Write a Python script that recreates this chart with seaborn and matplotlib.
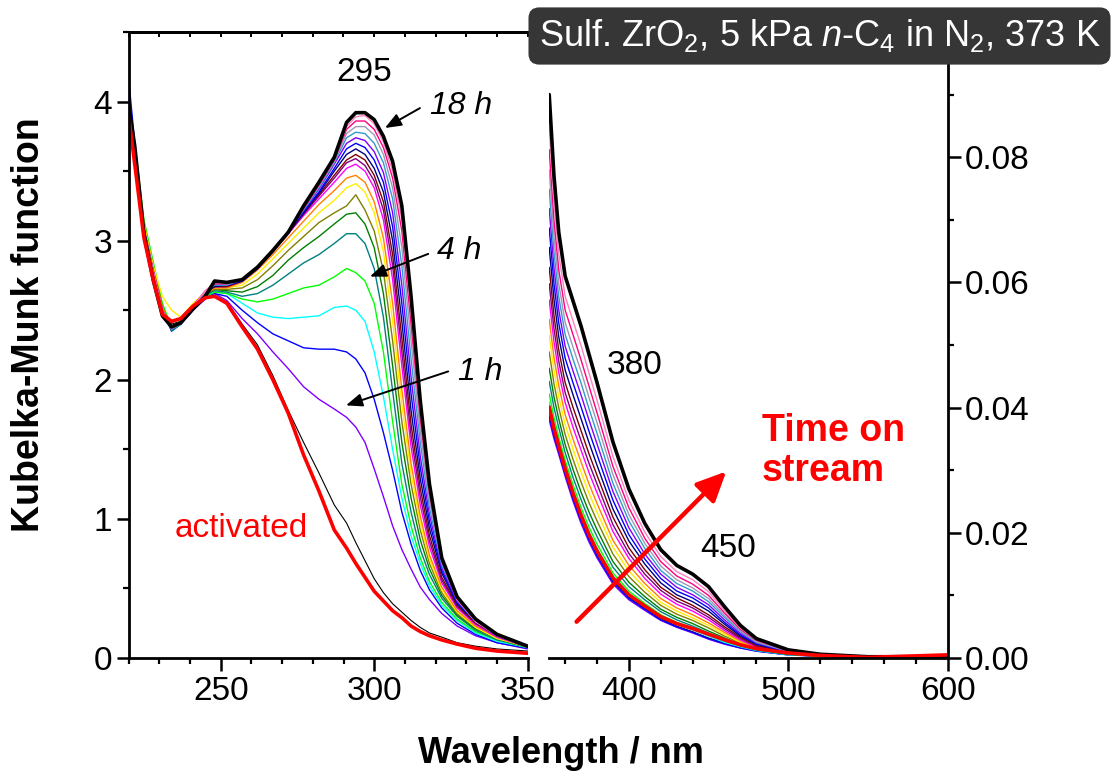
import matplotlib
matplotlib.use("Agg")
import matplotlib.pyplot as plt
from matplotlib.ticker import FixedLocator, FormatStrFormatter, MultipleLocator
import seaborn as sns

# ---------------------------------------------------------------------------
# Wavelength grids (nm)
# ---------------------------------------------------------------------------
wl_uv = [220, 222, 225, 228, 231, 234, 237, 241, 245, 248, 252, 257, 262, 267,
         272, 277, 282, 287, 291, 294, 297, 300, 303, 306, 309, 312, 315, 318,
         322, 327, 333, 340, 350]
wl_vis = [350, 353, 356, 360, 365, 370, 375, 380, 390, 400, 410, 420, 430, 440,
          450, 460, 470, 480, 500, 520, 550, 600]

# ---------------------------------------------------------------------------
# Kubelka-Munk spectra, UV range (left panel)
# ---------------------------------------------------------------------------
uv_activated = [3.90, 3.55, 3.02, 2.72, 2.47, 2.42, 2.44, 2.53, 2.59, 2.60, 2.55, 2.38, 2.22, 2.00, 1.76, 1.46, 1.20, 0.92, 0.79, 0.68, 0.58, 0.48, 0.41, 0.34, 0.29, 0.23, 0.19, 0.16, 0.13, 0.10, 0.07, 0.05, 0.034]
uv_t00 = [4.05, 3.62, 3.08, 2.78, 2.52, 2.40, 2.42, 2.52, 2.60, 2.60, 2.56, 2.40, 2.25, 2.03, 1.78, 1.55, 1.33, 1.10, 0.97, 0.83, 0.70, 0.57, 0.47, 0.39, 0.33, 0.27, 0.22, 0.18, 0.15, 0.11, 0.085, 0.065, 0.05]
uv_t01 = [4.10, 3.66, 3.10, 2.80, 2.52, 2.36, 2.40, 2.50, 2.58, 2.62, 2.57, 2.44, 2.33, 2.20, 2.08, 1.95, 1.86, 1.79, 1.73, 1.66, 1.55, 1.36, 1.16, 0.95, 0.78, 0.64, 0.51, 0.42, 0.32, 0.23, 0.16, 0.11, 0.065]
uv_t02 = [4.17, 3.70, 3.12, 2.80, 2.50, 2.35, 2.40, 2.50, 2.60, 2.62, 2.60, 2.50, 2.41, 2.33, 2.28, 2.23, 2.22, 2.22, 2.20, 2.15, 2.05, 1.86, 1.62, 1.35, 1.05, 0.82, 0.63, 0.49, 0.36, 0.25, 0.17, 0.11, 0.07]
uv_t03 = [4.05, 3.65, 3.10, 2.80, 2.52, 2.36, 2.40, 2.52, 2.60, 2.63, 2.62, 2.55, 2.48, 2.45, 2.44, 2.45, 2.46, 2.52, 2.53, 2.50, 2.42, 2.20, 1.88, 1.50, 1.15, 0.88, 0.68, 0.52, 0.38, 0.27, 0.18, 0.12, 0.075]
uv_t04 = [4.00, 3.70, 3.15, 2.85, 2.55, 2.38, 2.42, 2.52, 2.60, 2.63, 2.62, 2.58, 2.56, 2.58, 2.62, 2.66, 2.68, 2.74, 2.80, 2.77, 2.71, 2.55, 2.20, 1.70, 1.25, 0.95, 0.72, 0.55, 0.40, 0.28, 0.19, 0.13, 0.075]
uv_t05 = [4.05, 3.64, 3.08, 2.80, 2.50, 2.35, 2.40, 2.52, 2.61, 2.64, 2.63, 2.60, 2.62, 2.68, 2.76, 2.84, 2.90, 2.98, 3.05, 3.05, 2.98, 2.80, 2.45, 1.92, 1.40, 1.05, 0.78, 0.60, 0.43, 0.30, 0.20, 0.13, 0.078]
uv_t06 = [4.00, 3.62, 3.10, 2.80, 2.52, 2.37, 2.42, 2.52, 2.62, 2.65, 2.64, 2.63, 2.67, 2.75, 2.86, 2.95, 3.03, 3.12, 3.19, 3.20, 3.12, 2.95, 2.62, 2.10, 1.55, 1.15, 0.85, 0.64, 0.45, 0.31, 0.21, 0.14, 0.08]
uv_t07 = [4.02, 3.64, 3.12, 2.82, 2.52, 2.37, 2.42, 2.53, 2.62, 2.65, 2.65, 2.66, 2.72, 2.82, 2.93, 3.03, 3.13, 3.20, 3.25, 3.33, 3.22, 3.07, 2.78, 2.28, 1.70, 1.25, 0.92, 0.68, 0.47, 0.32, 0.22, 0.14, 0.08]
uv_t08 = [4.00, 3.65, 3.12, 2.82, 2.60, 2.50, 2.45, 2.55, 2.63, 2.66, 2.66, 2.68, 2.76, 2.87, 2.98, 3.09, 3.20, 3.29, 3.38, 3.41, 3.35, 3.20, 2.92, 2.42, 1.82, 1.33, 0.97, 0.71, 0.49, 0.33, 0.22, 0.14, 0.08]
uv_t09 = [4.02, 3.60, 3.10, 2.80, 2.52, 2.38, 2.42, 2.53, 2.63, 2.66, 2.66, 2.70, 2.79, 2.90, 3.02, 3.14, 3.26, 3.36, 3.45, 3.47, 3.42, 3.28, 3.02, 2.55, 1.93, 1.40, 1.02, 0.74, 0.51, 0.34, 0.23, 0.15, 0.08]
uv_t10 = [3.98, 3.60, 3.08, 2.78, 2.50, 2.37, 2.41, 2.53, 2.63, 2.67, 2.67, 2.71, 2.80, 2.92, 3.05, 3.18, 3.30, 3.42, 3.52, 3.55, 3.50, 3.38, 3.15, 2.72, 2.10, 1.52, 1.10, 0.80, 0.54, 0.36, 0.24, 0.15, 0.08]
uv_t11 = [4.02, 3.62, 3.08, 2.78, 2.50, 2.36, 2.41, 2.53, 2.63, 2.67, 2.67, 2.71, 2.80, 2.92, 3.05, 3.19, 3.32, 3.45, 3.56, 3.59, 3.54, 3.43, 3.22, 2.82, 2.20, 1.60, 1.16, 0.84, 0.56, 0.37, 0.25, 0.16, 0.08]
uv_t12 = [4.00, 3.60, 3.08, 2.78, 2.50, 2.37, 2.41, 2.53, 2.63, 2.67, 2.67, 2.71, 2.80, 2.92, 3.06, 3.20, 3.33, 3.47, 3.58, 3.62, 3.58, 3.47, 3.28, 2.90, 2.30, 1.68, 1.22, 0.88, 0.58, 0.38, 0.25, 0.16, 0.08]
uv_t13 = [4.05, 3.62, 3.08, 2.78, 2.50, 2.37, 2.41, 2.53, 2.63, 2.67, 2.68, 2.71, 2.80, 2.93, 3.06, 3.20, 3.34, 3.50, 3.62, 3.66, 3.62, 3.52, 3.35, 3.00, 2.42, 1.78, 1.29, 0.93, 0.61, 0.39, 0.26, 0.16, 0.08]
uv_t14 = [4.12, 3.64, 3.08, 2.78, 2.50, 2.36, 2.41, 2.53, 2.63, 2.68, 2.68, 2.71, 2.80, 2.93, 3.06, 3.21, 3.35, 3.52, 3.66, 3.70, 3.67, 3.58, 3.42, 3.10, 2.55, 1.90, 1.37, 0.98, 0.63, 0.40, 0.26, 0.16, 0.08]
uv_t15 = [4.02, 3.60, 3.08, 2.78, 2.50, 2.37, 2.41, 2.53, 2.63, 2.68, 2.68, 2.72, 2.80, 2.93, 3.06, 3.22, 3.37, 3.55, 3.70, 3.74, 3.72, 3.64, 3.49, 3.20, 2.68, 2.02, 1.45, 1.03, 0.65, 0.41, 0.27, 0.17, 0.08]
uv_t16 = [4.00, 3.60, 3.08, 2.78, 2.50, 2.36, 2.40, 2.53, 2.63, 2.68, 2.68, 2.72, 2.81, 2.93, 3.07, 3.22, 3.38, 3.56, 3.74, 3.78, 3.77, 3.70, 3.56, 3.30, 2.82, 2.15, 1.55, 1.08, 0.67, 0.42, 0.27, 0.17, 0.08]
uv_t17 = [4.00, 3.60, 3.08, 2.78, 2.50, 2.37, 2.41, 2.53, 2.63, 2.69, 2.69, 2.72, 2.81, 2.93, 3.07, 3.23, 3.39, 3.57, 3.77, 3.82, 3.82, 3.76, 3.62, 3.38, 2.95, 2.28, 1.63, 1.13, 0.69, 0.42, 0.27, 0.17, 0.08]
uv_t18 = [3.98, 3.60, 3.08, 2.78, 2.50, 2.37, 2.41, 2.53, 2.64, 2.69, 2.69, 2.72, 2.81, 2.93, 3.07, 3.23, 3.40, 3.58, 3.80, 3.86, 3.86, 3.80, 3.67, 3.45, 3.07, 2.40, 1.72, 1.18, 0.70, 0.42, 0.27, 0.17, 0.08]
uv_t19 = [3.98, 3.60, 3.08, 2.78, 2.50, 2.37, 2.41, 2.53, 2.64, 2.70, 2.69, 2.72, 2.81, 2.93, 3.07, 3.24, 3.41, 3.59, 3.82, 3.89, 3.90, 3.84, 3.71, 3.50, 3.15, 2.50, 1.78, 1.21, 0.71, 0.42, 0.26, 0.16, 0.08]
uv_t20 = [3.98, 3.68, 3.05, 2.72, 2.46, 2.38, 2.41, 2.51, 2.60, 2.71, 2.70, 2.72, 2.81, 2.93, 3.06, 3.25, 3.42, 3.60, 3.85, 3.92, 3.92, 3.87, 3.75, 3.57, 3.25, 2.60, 1.85, 1.25, 0.72, 0.44, 0.28, 0.17, 0.085]

# ---------------------------------------------------------------------------
# Kubelka-Munk spectra, visible range (right panel)
# ---------------------------------------------------------------------------
vis_activated = [0.0401, 0.0367, 0.0339, 0.0303, 0.0263, 0.0228, 0.0197, 0.0171, 0.0128, 0.0101, 0.0083, 0.0066, 0.0055, 0.0047, 0.0038, 0.0029, 0.0021, 0.0015, 0.0008, 0.0004, 0.0001, 0.0005]
vis_t00 = [0.0393, 0.0361, 0.0334, 0.0298, 0.0258, 0.0223, 0.0193, 0.0167, 0.0124, 0.0097, 0.0079, 0.0063, 0.0051, 0.0042, 0.0032, 0.0024, 0.0017, 0.0012, 0.0005, 0.0003, 0.0001, 0.0001]
vis_t01 = [0.0380, 0.0350, 0.0325, 0.0290, 0.0250, 0.0215, 0.0185, 0.0160, 0.0118, 0.0093, 0.0076, 0.0060, 0.0049, 0.0040, 0.0030, 0.0022, 0.0016, 0.0011, 0.0005, 0.00025, 0.0001, 0.00005]
vis_t02 = [0.0386, 0.0355, 0.0329, 0.0294, 0.0254, 0.0219, 0.0189, 0.0163, 0.0121, 0.0095, 0.0078, 0.0061, 0.0050, 0.0041, 0.0031, 0.0023, 0.0016, 0.0011, 0.0005, 0.0003, 0.0001, 0.0001]
vis_t03 = [0.0409, 0.0373, 0.0345, 0.0308, 0.0268, 0.0232, 0.0202, 0.0175, 0.0131, 0.0103, 0.0084, 0.0066, 0.0054, 0.0045, 0.0035, 0.0025, 0.0018, 0.0012, 0.0005, 0.0003, 0.0001, 0.0001]
vis_t04 = [0.0422, 0.0384, 0.0353, 0.0316, 0.0276, 0.0240, 0.0209, 0.0182, 0.0136, 0.0107, 0.0087, 0.0069, 0.0057, 0.0048, 0.0037, 0.0027, 0.0019, 0.0013, 0.0006, 0.0003, 0.0001, 0.0001]
vis_t05 = [0.0442, 0.0400, 0.0368, 0.0328, 0.0288, 0.0253, 0.0221, 0.0194, 0.0145, 0.0114, 0.0093, 0.0074, 0.0061, 0.0051, 0.0040, 0.0029, 0.0020, 0.0013, 0.0006, 0.0003, 0.0001, 0.0001]
vis_t06 = [0.0463, 0.0417, 0.0382, 0.0341, 0.0301, 0.0265, 0.0233, 0.0205, 0.0154, 0.0121, 0.0098, 0.0078, 0.0065, 0.0055, 0.0043, 0.0032, 0.0022, 0.0014, 0.0006, 0.0003, 0.0001, 0.0001]
vis_t07 = [0.0489, 0.0438, 0.0400, 0.0357, 0.0317, 0.0281, 0.0248, 0.0219, 0.0166, 0.0130, 0.0105, 0.0084, 0.0070, 0.0060, 0.0048, 0.0035, 0.0024, 0.0015, 0.0007, 0.0003, 0.0001, 0.0001]
vis_t08 = [0.0515, 0.0459, 0.0417, 0.0373, 0.0333, 0.0297, 0.0263, 0.0233, 0.0177, 0.0139, 0.0112, 0.0089, 0.0075, 0.0064, 0.0052, 0.0038, 0.0025, 0.0016, 0.0007, 0.0003, 0.0001, 0.0001]
vis_t09 = [0.0541, 0.0480, 0.0435, 0.0389, 0.0349, 0.0313, 0.0278, 0.0247, 0.0188, 0.0148, 0.0119, 0.0095, 0.0080, 0.0069, 0.0056, 0.0041, 0.0027, 0.0017, 0.0008, 0.0004, 0.0001, 0.0001]
vis_t10 = [0.0572, 0.0505, 0.0456, 0.0408, 0.0368, 0.0332, 0.0296, 0.0264, 0.0202, 0.0159, 0.0127, 0.0102, 0.0086, 0.0075, 0.0061, 0.0044, 0.0029, 0.0018, 0.0008, 0.0004, 0.0001, 0.0001]
vis_t11 = [0.0598, 0.0526, 0.0474, 0.0424, 0.0384, 0.0347, 0.0311, 0.0278, 0.0213, 0.0167, 0.0134, 0.0108, 0.0091, 0.0080, 0.0065, 0.0047, 0.0031, 0.0019, 0.0008, 0.0004, 0.0001, 0.0001]
vis_t12 = [0.0624, 0.0547, 0.0492, 0.0440, 0.0400, 0.0363, 0.0326, 0.0292, 0.0225, 0.0176, 0.0141, 0.0113, 0.0096, 0.0084, 0.0069, 0.0050, 0.0033, 0.0020, 0.0009, 0.0004, 0.0002, 0.0001]
vis_t13 = [0.0656, 0.0573, 0.0513, 0.0460, 0.0420, 0.0382, 0.0344, 0.0308, 0.0238, 0.0187, 0.0150, 0.0120, 0.0101, 0.0090, 0.0075, 0.0054, 0.0035, 0.0022, 0.0009, 0.0004, 0.0002, 0.0001]
vis_t14 = [0.0687, 0.0598, 0.0535, 0.0479, 0.0439, 0.0401, 0.0362, 0.0325, 0.0252, 0.0197, 0.0158, 0.0127, 0.0107, 0.0096, 0.0080, 0.0057, 0.0037, 0.0023, 0.0010, 0.0005, 0.0002, 0.0001]
vis_t15 = [0.0718, 0.0623, 0.0556, 0.0498, 0.0458, 0.0420, 0.0380, 0.0342, 0.0266, 0.0208, 0.0166, 0.0134, 0.0113, 0.0101, 0.0085, 0.0061, 0.0039, 0.0024, 0.0010, 0.0005, 0.0002, 0.0001]
vis_t16 = [0.0749, 0.0648, 0.0577, 0.0517, 0.0477, 0.0439, 0.0398, 0.0359, 0.0279, 0.0219, 0.0175, 0.0140, 0.0119, 0.0107, 0.0090, 0.0065, 0.0042, 0.0025, 0.0011, 0.0005, 0.0002, 0.0002]
vis_t17 = [0.0780, 0.0673, 0.0598, 0.0536, 0.0496, 0.0458, 0.0416, 0.0376, 0.0293, 0.0229, 0.0183, 0.0147, 0.0125, 0.0112, 0.0095, 0.0068, 0.0044, 0.0026, 0.0011, 0.0005, 0.0002, 0.0002]
vis_t18 = [0.0812, 0.0699, 0.0620, 0.0556, 0.0516, 0.0476, 0.0434, 0.0392, 0.0306, 0.0240, 0.0191, 0.0154, 0.0131, 0.0118, 0.0100, 0.0072, 0.0046, 0.0028, 0.0012, 0.0005, 0.0002, 0.0002]
vis_t19 = [0.0848, 0.0728, 0.0645, 0.0578, 0.0538, 0.0499, 0.0455, 0.0412, 0.0322, 0.0252, 0.0201, 0.0162, 0.0138, 0.0125, 0.0106, 0.0076, 0.0048, 0.0029, 0.0012, 0.0006, 0.0002, 0.0002]
vis_t20 = [0.0900, 0.0770, 0.0680, 0.0610, 0.0570, 0.0530, 0.0485, 0.0440, 0.0345, 0.0270, 0.0215, 0.0173, 0.0148, 0.0134, 0.0114, 0.0082, 0.0052, 0.0031, 0.0013, 0.0006, 0.0002, 0.0002]

# Line colours for the time-on-stream series (t00 = just after switching to the feed)
series_colors = ["#000000", "#8000ff", "#0000ff", "#00ffff", "#00ff00", "#008080",
                 "#008000", "#808000", "#ffee00", "#ff8000", "#ff00ff", "#800080",
                 "#800000", "#000080", "#0000ff", "#8000ff", "#3399cc", "#9a9ab8",
                 "#ff0080", "#ff80c0"]
uv_series = [uv_t00, uv_t01, uv_t02, uv_t03, uv_t04, uv_t05, uv_t06, uv_t07, uv_t08, uv_t09,
             uv_t10, uv_t11, uv_t12, uv_t13, uv_t14, uv_t15, uv_t16, uv_t17, uv_t18, uv_t19]
vis_series = [vis_t00, vis_t01, vis_t02, vis_t03, vis_t04, vis_t05, vis_t06, vis_t07, vis_t08, vis_t09,
              vis_t10, vis_t11, vis_t12, vis_t13, vis_t14, vis_t15, vis_t16, vis_t17, vis_t18, vis_t19]

# ---------------------------------------------------------------------------
# Style
# ---------------------------------------------------------------------------
sns.set_style("ticks")
plt.rcParams["font.family"] = ["Liberation Sans", "DejaVu Sans"]
plt.rcParams["mathtext.fontset"] = "custom"
plt.rcParams["mathtext.rm"] = "Liberation Sans"
plt.rcParams["mathtext.it"] = "Liberation Sans:italic"
plt.rcParams["axes.linewidth"] = 2.0
for key in ("text.color", "axes.labelcolor", "axes.edgecolor", "xtick.color",
            "ytick.color", "xtick.labelcolor", "ytick.labelcolor"):
    plt.rcParams[key] = "black"

W, H = 1111, 774
fig = plt.figure(figsize=(W / 100, H / 100), dpi=100)
fig.patch.set_facecolor("white")

ax1 = fig.add_axes([128.6 / W, 116 / H, 399.1 / W, 626 / H])
ax2 = fig.add_axes([549.2 / W, 116 / H, 398.4 / W, 626 / H])


def draw_panel(ax, wl, series, activated, final):
    for vals, col in zip(series, series_colors):
        lw = 0.8 if col == "#000000" else 1.0
        sns.lineplot(x=wl, y=vals, ax=ax, color=col, lw=lw, sort=False,
                     estimator=None, legend=False)
    sns.lineplot(x=wl, y=final, ax=ax, color="black", lw=2.6, sort=False,
                 estimator=None, legend=False)
    sns.lineplot(x=wl, y=activated, ax=ax, color="#ff0000", lw=2.6, sort=False,
                 estimator=None, legend=False)


draw_panel(ax1, wl_uv, uv_series, uv_activated, uv_t20)
draw_panel(ax2, wl_vis, vis_series, vis_activated, vis_t20)

# ---------------------------------------------------------------------------
# Left panel axes
# ---------------------------------------------------------------------------
ax1.set_xlim(220, 350)
ax1.set_ylim(0, 4.5)
ax1.spines["right"].set_visible(False)
ax1.spines["top"].set_visible(True)
ax1.xaxis.set_major_locator(FixedLocator([250, 300, 350]))
ax1.xaxis.set_minor_locator(MultipleLocator(10))
ax1.yaxis.set_major_locator(FixedLocator([0, 1, 2, 3, 4]))
ax1.yaxis.set_minor_locator(FixedLocator([0.5, 1.5, 2.5, 3.5, 4.5]))
ax1.yaxis.set_major_formatter(FormatStrFormatter("%d"))
ax1.tick_params(axis="both", which="major", direction="out", length=9, width=1.8,
                labelsize=24)
ax1.tick_params(axis="both", which="minor", direction="out", length=4.5, width=1.6)
ax1.tick_params(axis="x", which="major", pad=4)
ax1.tick_params(axis="y", which="major", pad=3)
ax1.set_xlabel("")
ax1.set_ylabel("")

top = ax1.secondary_xaxis("top")
top.xaxis.set_major_locator(MultipleLocator(10))
top.tick_params(axis="x", which="major", direction="in", length=3.5, width=1.4,
                labeltop=False)
top.spines["top"].set_linewidth(2.0)

# ---------------------------------------------------------------------------
# Right panel axes
# ---------------------------------------------------------------------------
ax2.set_xlim(350, 600)
ax2.set_ylim(0, 0.10)
ax2.spines["left"].set_visible(False)
ax2.spines["top"].set_visible(False)
ax2.spines["right"].set_visible(True)
ax2.yaxis.tick_right()
ax2.xaxis.set_major_locator(FixedLocator([400, 500, 600]))
ax2.xaxis.set_minor_locator(FixedLocator([360, 380, 420, 440, 460, 480, 520, 540, 560, 580]))
ax2.yaxis.set_major_locator(FixedLocator([0.0, 0.02, 0.04, 0.06, 0.08]))
ax2.yaxis.set_minor_locator(FixedLocator([0.01, 0.03, 0.05, 0.07, 0.09]))
ax2.yaxis.set_major_formatter(FormatStrFormatter("%.2f"))
ax2.tick_params(axis="both", which="major", direction="out", length=9, width=1.8,
                labelsize=24)
ax2.tick_params(axis="both", which="minor", direction="out", length=4.5, width=1.6)
ax2.tick_params(axis="x", which="major", pad=4)
ax2.tick_params(axis="y", which="major", pad=3, left=False, right=True)
ax2.tick_params(axis="y", which="minor", left=False, right=True)
ax2.set_xlabel("")
ax2.set_ylabel("")

# ---------------------------------------------------------------------------
# Annotations
# ---------------------------------------------------------------------------
ax1.text(296.7, 4.15, "295", fontsize=24, ha="center", va="baseline")
ax1.text(318.2, 3.91, "18 h", fontsize=23, style="italic", ha="left", va="baseline")
ax1.text(320.4, 2.87, "4 h", fontsize=23, style="italic", ha="left", va="baseline")
ax1.text(327.3, 2.00, "1 h", fontsize=23, style="italic", ha="left", va="baseline")
ax1.text(235.1, 0.87, "activated", fontsize=24, color="#ff0000", ha="left",
         va="baseline")

arrow_k = dict(arrowstyle="-|>,head_length=0.7,head_width=0.28", color="black",
               lw=1.4, shrinkA=0, shrinkB=0, mutation_scale=14)
ax1.annotate("", xy=(303.5, 3.81), xytext=(314.9, 3.953), arrowprops=arrow_k)
ax1.annotate("", xy=(298.6, 2.742), xytext=(317.6, 2.905), arrowprops=arrow_k)
ax1.annotate("", xy=(290.8, 1.816), xytext=(324.1, 2.06), arrowprops=arrow_k)

ax2.text(386.1, 0.0453, "380", fontsize=24, ha="left", va="baseline")
ax2.text(444.6, 0.0162, "450", fontsize=24, ha="left", va="baseline")
ax2.text(483.3, 0.0331, "Time on\nstream", fontsize=27, fontweight="bold",
         color="#ff0000", ha="left", va="center", linespacing=1.15)
ax2.annotate("", xy=(461.1, 0.0298), xytext=(367.2, 0.0058),
             arrowprops=dict(arrowstyle="-|>,head_length=0.75,head_width=0.35",
                             color="#ff0000", lw=3.2, shrinkA=0, shrinkB=0,
                             mutation_scale=24))

# Axis titles shared by both panels
fig.text(561 / W, 1 - 763 / H, "Wavelength / nm", fontsize=26, fontweight="bold",
         ha="center", va="baseline")
fig.text(29 / W, 1 - 325 / H, "Kubelka-Munk function", fontsize=27,
         fontweight="bold", rotation=90, ha="center", va="center")

# Condition label
fig.text(819.5 / W, 1 - 36 / H, r"Sulf. ZrO$_2$, 5 kPa $n$-C$_4$ in N$_2$, 373 K",
         fontsize=26, color="white", ha="center", va="center", zorder=10,
         bbox=dict(boxstyle="round,pad=0.28,rounding_size=0.3", fc="#363636",
                   ec="none"))

fig.savefig("out.png", dpi=100)
